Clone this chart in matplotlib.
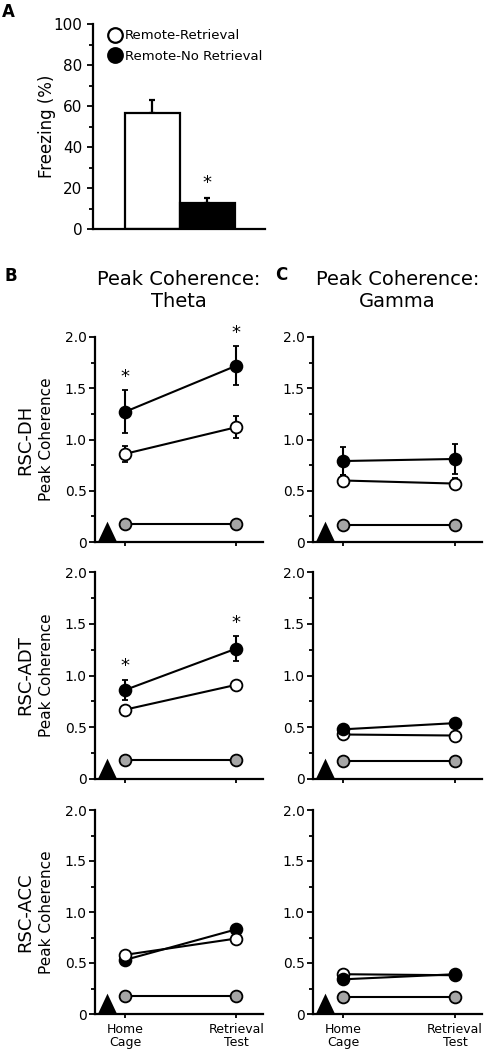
import matplotlib
matplotlib.use("Agg")
import matplotlib.pyplot as plt
from matplotlib.ticker import MultipleLocator

# panel A
freezing_groups = ["Remote-Retrieval", "Remote-No Retrieval"]
freezing_mean = [56.5, 12.5]
freezing_sem = [6.3, 2.5]
freezing_sig = [False, True]

# panels B / C
sessions = ["Home\nCage", "Retrieval\nTest"]
regions = ["RSC-DH", "RSC-ADT", "RSC-ACC"]

theta_ret_mean = [[0.86, 1.12], [0.67, 0.91], [0.58, 0.74]]
theta_ret_sem = [[0.08, 0.11], [0.03, 0.03], [0.02, 0.02]]
theta_noret_mean = [[1.27, 1.72], [0.86, 1.26], [0.53, 0.83]]
theta_noret_sem = [[0.21, 0.19], [0.10, 0.12], [0.02, 0.02]]
theta_ctrl = [[0.18, 0.18], [0.18, 0.18], [0.18, 0.18]]
theta_sig = [[True, True], [True, True], [False, False]]

gamma_ret_mean = [[0.60, 0.57], [0.43, 0.42], [0.39, 0.38]]
gamma_ret_sem = [[0.05, 0.05], [0.02, 0.02], [0.01, 0.01]]
gamma_noret_mean = [[0.79, 0.81], [0.48, 0.54], [0.34, 0.39]]
gamma_noret_sem = [[0.14, 0.15], [0.02, 0.02], [0.01, 0.01]]
gamma_ctrl = [[0.17, 0.17], [0.17, 0.17], [0.17, 0.17]]
gamma_sig = [[False, False], [False, False], [False, False]]

stim_x = -0.16  # triangle marker on the time axis

GREY = "#a6a6a6"
plt.rcParams["font.family"] = ["DejaVu Sans"]

fig = plt.figure(figsize=(4.85, 10.5), dpi=100)
W, H = 485.0, 1050.0


def px_axes(left, top, right, bottom):
    return fig.add_axes([left / W, 1 - bottom / H, (right - left) / W, (bottom - top) / H])


def style_axes(ax):
    for s in ["top", "right"]:
        ax.spines[s].set_visible(False)
    for s in ["left", "bottom"]:
        ax.spines[s].set_linewidth(1.6)
    ax.tick_params(which="both", direction="out", width=1.3, colors="black")
    ax.tick_params(which="major", length=4)
    ax.tick_params(which="minor", length=3)


# ---------------- panel A ----------------
axA = px_axes(93, 24, 265, 229)
style_axes(axA)
xs = range(len(freezing_mean))
axA.bar(xs, freezing_mean, width=1.0, color=["white", "black"], edgecolor="black", linewidth=1.6, zorder=2)
axA.errorbar(xs, freezing_mean, yerr=[[0, 0], freezing_sem], fmt="none", ecolor="black",
             elinewidth=1.6, capsize=2.5, capthick=1.6, zorder=1)
for x, m, e, s in zip(xs, freezing_mean, freezing_sem, freezing_sig):
    if s:
        axA.text(x, m + e + 7.5, "*", ha="center", va="center", fontsize=13)
axA.set_xlim(-1.08, 2.05)
axA.set_ylim(0, 100)
axA.set_xticks([])
axA.yaxis.set_major_locator(MultipleLocator(20))
axA.yaxis.set_minor_locator(MultipleLocator(10))
axA.tick_params(axis="y", labelsize=11)
axA.text(-0.265, 0.5, "Freezing (%)", transform=axA.transAxes, rotation=90,
         ha="center", va="center", fontsize=12)
h1, = axA.plot([], [], "o", mfc="white", mec="black", mew=1.6, ms=10.5)
h2, = axA.plot([], [], "o", mfc="black", mec="black", mew=1.6, ms=10.5)
axA.legend([h1, h2], freezing_groups, loc="upper left", bbox_to_anchor=(0.1, 0.975),
           frameon=False, handlelength=0.8, handletextpad=0.3, labelspacing=0.6,
           fontsize=9.5, borderaxespad=0, borderpad=0)
fig.text(2 / W, 1 - 12 / H, "A", fontsize=12, fontweight="bold", va="center", ha="left")

# ---------------- panels B / C ----------------
rows_px = [(337, 542), (572, 779), (810, 1014)]
cols_px = [(95, 263), (313, 482)]
columns = [
    ("Peak Coherence:\nTheta", theta_ret_mean, theta_ret_sem, theta_noret_mean, theta_noret_sem, theta_ctrl, theta_sig),
    ("Peak Coherence:\nGamma", gamma_ret_mean, gamma_ret_sem, gamma_noret_mean, gamma_noret_sem, gamma_ctrl, gamma_sig),
]
tri = [(-0.47, 0), (0.47, 0), (0, 1)]
xpos = [0, 1]

for c, (title, rm, rs, nm, ns, ctrl, sig) in enumerate(columns):
    left, right = cols_px[c]
    # white on top in theta column, black on top in gamma column
    z_white, z_black = (4, 3) if c == 0 else (3, 4)
    for r, (top, bottom) in enumerate(rows_px):
        ax = px_axes(left, top, right, bottom)
        style_axes(ax)
        ax.plot(xpos, ctrl[r], "-o", color="black", lw=1.5, mfc=GREY, mec="black", mew=1.3,
                ms=8.5, zorder=2, clip_on=False)
        ax.errorbar(xpos, nm[r], yerr=ns[r], fmt="-o", color="black", lw=1.5, mfc="black",
                    mec="black", mew=1.3, ms=8.5, elinewidth=1.5, capsize=2, capthick=1.5,
                    zorder=z_black)
        ax.errorbar(xpos, rm[r], yerr=rs[r], fmt="-o", color="black", lw=1.5, mfc="white",
                    mec="black", mew=1.3, ms=8.5, elinewidth=1.5, capsize=2, capthick=1.5,
                    zorder=z_white)
        for x, m, e, s in zip(xpos, nm[r], ns[r], sig[r]):
            if s:
                ax.text(x, m + e + 0.13, "*", ha="center", va="center", fontsize=13)
        ax.plot([stim_x], [0], marker=tri, ms=30, color="black", mew=0, clip_on=False, zorder=5)
        ax.set_xlim(-0.27, 1.24)
        ax.set_ylim(0, 2.0)
        ax.set_yticks([0, 0.5, 1.0, 1.5, 2.0])
        ax.set_yticklabels(["0", "0.5", "1.0", "1.5", "2.0"])
        ax.yaxis.set_minor_locator(MultipleLocator(0.25))
        ax.tick_params(axis="y", labelsize=10, pad=2)
        ax.set_xticks(xpos)
        ax.tick_params(axis="x", length=3)
        if r == len(rows_px) - 1:
            ax.set_xticklabels(sessions, fontsize=9, linespacing=0.95)
        else:
            ax.set_xticklabels([])
        if c == 0:
            ax.text(-0.286, 0.5, "Peak Coherence", transform=ax.transAxes, rotation=90,
                    ha="center", va="center", fontsize=11)
            ax.text(-0.417, 0.5, regions[r], transform=ax.transAxes, rotation=90,
                    ha="center", va="center", fontsize=13)
        if r == 0:
            ax.text(0.5, 1.227, title, transform=ax.transAxes, ha="center", va="center",
                    fontsize=14, linespacing=1.2)

fig.text(4 / W, 1 - 276 / H, "B", fontsize=12, fontweight="bold", va="center", ha="left")
fig.text(275 / W, 1 - 275 / H, "C", fontsize=12, fontweight="bold", va="center", ha="left")

fig.savefig("out.png", dpi=100)
